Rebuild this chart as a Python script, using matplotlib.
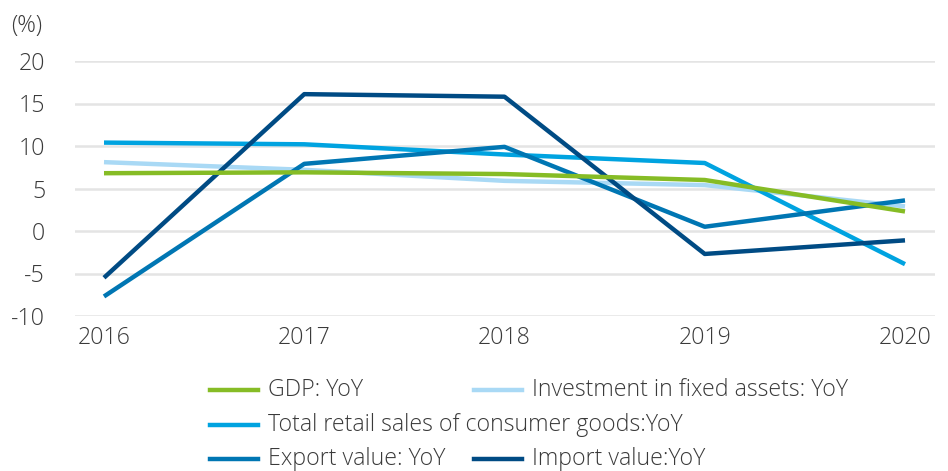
import matplotlib
matplotlib.use("Agg")
import matplotlib.pyplot as plt
from matplotlib.lines import Line2D

plt.rcParams['font.family'] = ['Open Sans', 'DejaVu Sans']
plt.rcParams['font.weight'] = 'light'

################# DATA #########################################

years = [2016, 2017, 2018, 2019, 2020]

gdp = [6.8, 6.9, 6.7, 6.0, 2.3]
investment = [8.1, 7.2, 5.9, 5.4, 2.9]
retail = [10.4, 10.2, 9.0, 8.0, -3.9]
export = [-7.7, 7.9, 9.9, 0.5, 3.6]
imports = [-5.5, 16.1, 15.8, -2.7, -1.1]

labels = ["GDP: YoY",
          "Investment in fixed assets: YoY",
          "Total retail sales of consumer goods:YoY",
          "Export value: YoY",
          "Import value:YoY"]

yticks = [-10, -5, 0, 5, 10, 15, 20]

################# STYLE ########################################

c_gdp = "#86BC25"
c_inv = "#A9D9F5"
c_ret = "#00A3E0"
c_exp = "#0076B3"
c_imp = "#004B84"
text_c = "#3a3a3a"
fs = 16.7
lw = 3.2

################# PLOT #########################################

fig = plt.figure(figsize=(9.48, 4.71), dpi=100)
ax = fig.add_axes([75/948, 1-316/471, 860/948, 255/471])

ax.plot(years, investment, color=c_inv, lw=lw, solid_capstyle="butt", zorder=3)
ax.plot(years, retail, color=c_ret, lw=lw, solid_capstyle="butt", zorder=3)
ax.plot(years, export, color=c_exp, lw=lw, solid_capstyle="butt", zorder=4)
ax.plot(years, imports, color=c_imp, lw=lw, solid_capstyle="butt", zorder=4)
ax.plot(years, gdp, color=c_gdp, lw=lw, solid_capstyle="butt", zorder=5)

ax.set_ylim(-10, 20)
ax.set_xlim(2016 - 29/200.25, 2020 + 30/200.25)
ax.set_yticks(yticks)
ax.set_yticklabels([str(v) for v in yticks])
ax.set_xticks(years)
ax.set_xticklabels([str(y) for y in years])

for s in ax.spines.values():
    s.set_visible(False)
ax.grid(axis="y", color="#e4e4e4", lw=1.8)
ax.set_axisbelow(True)
ax.tick_params(length=0, labelsize=fs, colors=text_c)
ax.tick_params(axis="y", pad=21.5)
ax.tick_params(axis="x", pad=7.5)
for t in ax.get_yticklabels():
    t.set_horizontalalignment("right")

fig.text(11/948, 1-26/471, "(%)", fontsize=fs, color=text_c, va="center", ha="left")

# legend, drawn by hand to get the uneven layout
legend_rows = [
    [(c_gdp, labels[0], 210), (c_inv, labels[1], 474)],
    [(c_ret, labels[2], 210)],
    [(c_exp, labels[3], 210), (c_imp, labels[4], 474)],
]
row_y = [390, 425, 459]
for row, yy in zip(legend_rows, row_y):
    for color, lab, x0 in row:
        fig.add_artist(Line2D([x0/948, (x0+48)/948], [1-yy/471, 1-yy/471],
                              color=color, lw=lw, transform=fig.transFigure))
        fig.text((x0+58)/948, 1-yy/471, lab, fontsize=fs, color=text_c,
                 va="center", ha="left")

plt.savefig("out.png", dpi=100)
